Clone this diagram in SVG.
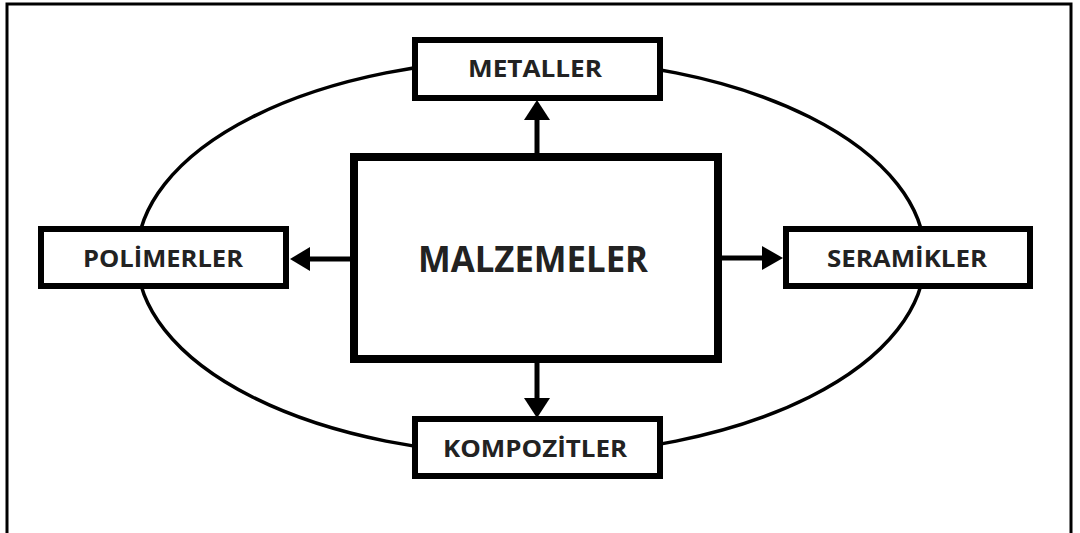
<svg xmlns="http://www.w3.org/2000/svg" width="1080" height="533" viewBox="0 0 1080 533">
  <style>
    .box { fill: #fff; stroke: #000; stroke-width: 6; }
    .main { fill: #fff; stroke: #000; stroke-width: 8; }
    .lbl { font-family: "Open Sans", "Liberation Sans", sans-serif; font-weight: 700; font-size: 23px; fill: #222; text-anchor: middle; dominant-baseline: central; }
    .big { font-family: "Open Sans", "Liberation Sans", sans-serif; font-weight: 700; font-size: 36px; fill: #222; text-anchor: middle; dominant-baseline: central; }
    .conn { stroke: #000; stroke-width: 5; fill: none; }
    .head { fill: #000; }
  </style>
  <rect width="1080" height="533" fill="#fff"/>
  <!-- frame -->
  <path d="M7 540 V4 H1071 V540" fill="none" stroke="#000" stroke-width="3"/>
  <!-- ring linking the four classes -->
  <ellipse cx="531" cy="257" rx="394" ry="198" fill="none" stroke="#000" stroke-width="3.5"/>
  <g id="connectors">
    <line class="conn" x1="537" y1="157" x2="537" y2="118"/>
    <polygon class="head" points="524,120 550,120 537,100"/>
    <line class="conn" x1="537" y1="359" x2="537" y2="400"/>
    <polygon class="head" points="524,398 550,398 537,418"/>
    <line class="conn" x1="354" y1="259" x2="308" y2="259"/>
    <polygon class="head" points="310,247 310,271 290,259"/>
    <line class="conn" x1="718" y1="258" x2="764" y2="258"/>
    <polygon class="head" points="762,246 762,270 783,258"/>
  </g>
  <g id="malzemeler">
    <rect class="main" x="354" y="157" width="364" height="202"/>
    <text class="big" x="533" y="258" textLength="230" lengthAdjust="spacingAndGlyphs">MALZEMELER</text>
  </g>
  <g id="metaller">
    <rect class="box" x="415" y="40" width="245" height="58"/>
    <text class="lbl" x="535" y="68" textLength="134" lengthAdjust="spacingAndGlyphs">METALLER</text>
  </g>
  <g id="polimerler">
    <rect class="box" x="41" y="229" width="245" height="57"/>
    <text class="lbl" x="163" y="258" textLength="160" lengthAdjust="spacingAndGlyphs">POLİMERLER</text>
  </g>
  <g id="seramikler">
    <rect class="box" x="786" y="229" width="244" height="57"/>
    <text class="lbl" x="907" y="258" textLength="160" lengthAdjust="spacingAndGlyphs">SERAMİKLER</text>
  </g>
  <g id="kompozitler">
    <rect class="box" x="415" y="419" width="245" height="57"/>
    <text class="lbl" x="535" y="448" textLength="184" lengthAdjust="spacingAndGlyphs">KOMPOZİTLER</text>
  </g>
</svg>
